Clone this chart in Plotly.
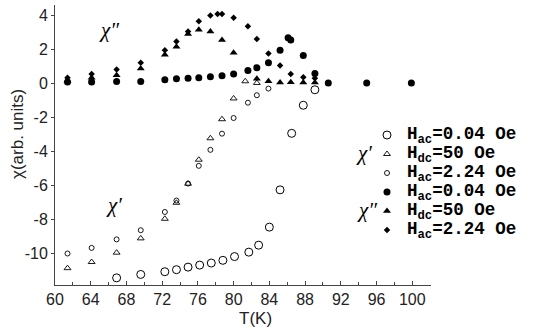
import plotly.graph_objects as go

# chi' , H_ac = 0.04 Oe (large open circles)
T_re_ac004 = [66.9, 69.6, 72.3, 73.6, 74.9, 76.2, 77.5, 78.8, 80.1, 81.7, 82.8, 84.0, 85.2, 86.5, 87.8, 89.1]
V_re_ac004 = [-11.43, -11.23, -11.07, -10.95, -10.80, -10.68, -10.56, -10.40, -10.18, -9.92, -9.51, -8.45, -6.26, -2.94, -1.29, -0.38]

# chi' , H_dc = 50 Oe (open triangles)
T_re_dc50 = [61.4, 64.1, 66.9, 69.6, 72.3, 73.6, 74.9, 76.1, 77.4, 78.7, 80.0, 81.3, 82.6]
V_re_dc50 = [-10.86, -10.50, -9.95, -9.11, -7.96, -7.02, -5.90, -4.49, -3.23, -2.11, -0.89, 0.12, 0.02]

# chi' , H_ac = 2.24 Oe (small open symbols)
T_re_ac224 = [61.4, 64.1, 66.9, 69.6, 72.3, 73.6, 74.9, 76.1, 77.4, 78.7, 80.0, 81.6, 82.6, 83.9]
V_re_ac224 = [-10.0, -9.67, -9.17, -8.63, -7.56, -6.89, -5.89, -4.85, -3.91, -2.96, -2.04, -1.14, -0.70, -0.31]

# chi'' , H_ac = 0.04 Oe (filled circles)
T_im_ac004 = [61.4, 64.1, 66.9, 69.6, 72.3, 73.6, 74.9, 76.1, 77.4, 78.7, 80.0, 81.6, 82.6, 83.9, 85.2, 86.1, 86.4, 87.8, 89.1, 90.6, 94.9, 99.9]
V_im_ac004 = [0.08, 0.08, 0.10, 0.10, 0.21, 0.26, 0.30, 0.32, 0.38, 0.45, 0.55, 0.75, 0.91, 1.21, 1.94, 2.68, 2.54, 1.64, 0.57, 0.02, 0.02, 0.02]

# chi'' , H_dc = 50 Oe (filled triangles)
T_im_dc50 = [61.4, 64.1, 66.9, 69.6, 72.3, 73.6, 74.9, 76.1, 77.4, 78.7, 80.0, 82.6, 83.9, 85.2, 86.4, 87.8, 89.1]
V_im_dc50 = [0.15, 0.32, 0.48, 0.87, 1.67, 2.14, 2.89, 3.15, 3.05, 2.54, 1.80, 0.27, 0.12, 0.05, 0.06, 0.05, 0.05]

# chi'' , H_ac = 2.24 Oe (small filled diamonds)
T_im_ac224 = [61.4, 64.1, 66.9, 69.6, 72.3, 73.6, 74.9, 76.1, 77.4, 78.2, 78.7, 80.0, 81.6, 82.6, 83.9, 85.2, 86.4, 87.8, 89.1]
V_im_ac224 = [0.32, 0.55, 0.81, 1.21, 1.94, 2.46, 3.04, 3.65, 3.99, 4.07, 4.07, 3.85, 3.35, 2.60, 1.75, 1.05, 0.55, 0.36, 0.30]

x_ticks = [60, 64, 68, 72, 76, 80, 84, 88, 92, 96, 100]
y_ticks = [4, 2, 0, -2, -4, -6, -8, -10]
y_ticktext = ["4", "2", "0", "-2", "-4", "-6", "-8", "-10"]

legend_names = [
    "H<sub>ac</sub>=0.04 Oe",
    "H<sub>dc</sub>=50 Oe",
    "H<sub>ac</sub>=2.24 Oe",
    "H<sub>ac</sub>=0.04 Oe",
    "H<sub>dc</sub>=50 Oe",
    "H<sub>ac</sub>=2.24 Oe",
]

W, H = 538, 332
ML, MR, MT, MB = 55, 107, 5, 47
PW, PH = W - ML - MR, H - MT - MB


def px(xp):
    return (xp - ML) / PW


def py(yp):
    return (H - MB - yp) / PH


fig = go.Figure()

series = [
    (T_re_ac004, V_re_ac004, "circle-open", 8, 1.0),
    (T_re_dc50, V_re_dc50, "triangle-up-open", 6, 0.9),
    (T_re_ac224, V_re_ac224, "circle-open", 5, 0.9),
    (T_im_ac004, V_im_ac004, "circle", 7, 0),
    (T_im_dc50, V_im_dc50, "triangle-up", 7, 0),
    (T_im_ac224, V_im_ac224, "diamond", 5, 0),
]

for (T, V, sym, size, lw), name in zip(series, legend_names):
    fig.add_trace(go.Scatter(
        x=T, y=V, mode="markers",
        name='<span style="font-size:17.5px">' + name + "</span>",
        marker=dict(symbol=sym, size=size, color="black",
                    line=dict(color="black", width=lw)),
    ))

axis_font = dict(family="Liberation Sans, Arial, sans-serif", size=16, color="#222")

fig.update_layout(
    width=W, height=H,
    margin=dict(l=ML, r=MR, t=MT, b=MB, pad=0),
    paper_bgcolor="white", plot_bgcolor="white",
    showlegend=True,
    legend=dict(
        x=px(367), y=py(120.5), xanchor="left", yanchor="top",
        font=dict(family="Liberation Mono, Courier New, monospace", size=11.4,
                  color="black", weight="bold"),
        bgcolor="rgba(0,0,0,0)", borderwidth=0, tracegroupgap=0,
        itemwidth=30,
    ),
    xaxis=dict(
        range=[60, 102.1], tickvals=x_ticks, ticks="inside", ticklen=4,
        tickcolor="#444", tickwidth=1, showline=True, linecolor="#444",
        linewidth=1, showgrid=False, zeroline=False, tickfont=axis_font,
        minor=dict(dtick=2, tick0=60, ticks="inside", ticklen=3,
                   tickcolor="#444", showgrid=False),
    ),
    yaxis=dict(
        range=[-11.85, 4.6], tickvals=y_ticks, ticktext=y_ticktext,
        ticks="outside", ticklen=3, tickcolor="#444", tickwidth=1,
        showline=True, linecolor="#444", linewidth=1, showgrid=False,
        zeroline=False, tickfont=axis_font,
    ),
)

chi_font = dict(family="Liberation Serif, Times New Roman, serif", size=21, color="black")

annotations = [
    dict(x=px(109), y=py(30), text="<i>χ″</i>", font=chi_font),
    dict(x=px(114), y=py(205), text="<i>χ′</i>", font=chi_font),
    dict(x=px(364), y=py(153), text="<i>χ′</i>", font=chi_font),
    dict(x=px(367), y=py(210), text="<i>χ″</i>", font=chi_font),
    dict(x=px(256), y=py(318), text="T(K)", font=dict(family="Liberation Sans, Arial, sans-serif", size=17, color="#222")),
    dict(x=px(17), y=py(134), text="χ(arb. units)", textangle=-90,
         font=dict(family="Liberation Sans, Arial, sans-serif", size=17, color="#222")),
]
for a in annotations:
    a.update(xref="paper", yref="paper", showarrow=False, xanchor="center", yanchor="middle")
fig.update_layout(annotations=annotations)

fig.write_html("out.html")
